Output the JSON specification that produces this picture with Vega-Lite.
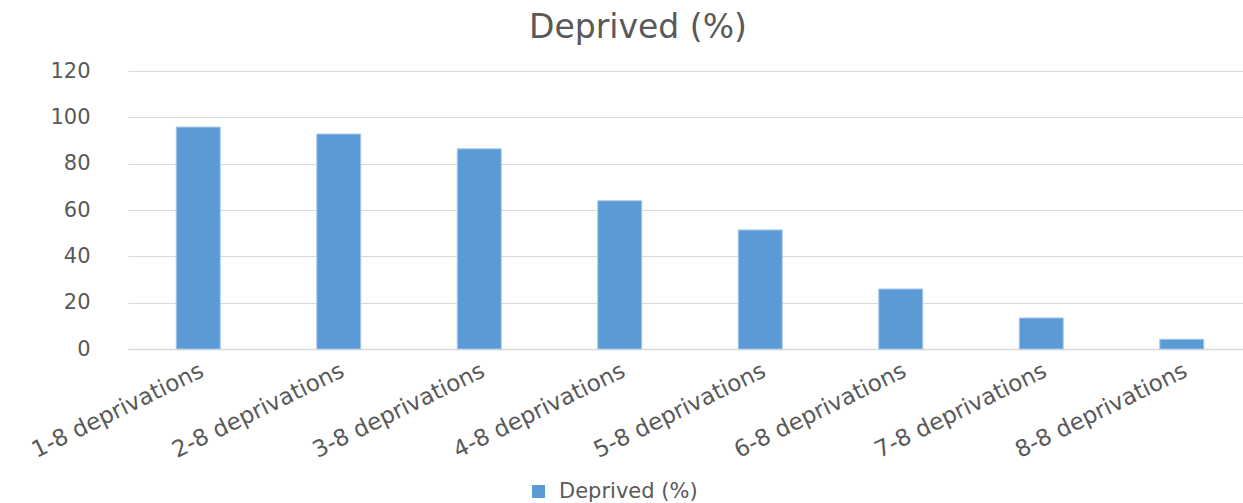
{
  "$schema": "https://vega.github.io/schema/vega-lite/v6.json",
  "width": 1124,
  "height": 278,
  "autosize": {"type": "none"},
  "padding": {"left": 128, "top": 71, "right": 0, "bottom": 154},
  "background": "white",
  "title": {
    "text": "Deprived (%)",
    "font": "DejaVu Sans",
    "fontSize": 33,
    "fontWeight": "normal",
    "color": "#595959",
    "anchor": "middle",
    "dx": -52,
    "offset": 15
  },
  "data": {
    "values": [
      {"group": "1-8 deprivations", "deprived": 95.8, "series": "Deprived (%)"},
      {"group": "2-8 deprivations", "deprived": 92.8, "series": "Deprived (%)"},
      {"group": "3-8 deprivations", "deprived": 86.4, "series": "Deprived (%)"},
      {"group": "4-8 deprivations", "deprived": 64.0, "series": "Deprived (%)"},
      {"group": "5-8 deprivations", "deprived": 51.4, "series": "Deprived (%)"},
      {"group": "6-8 deprivations", "deprived": 25.9, "series": "Deprived (%)"},
      {"group": "7-8 deprivations", "deprived": 13.4, "series": "Deprived (%)"},
      {"group": "8-8 deprivations", "deprived": 4.2, "series": "Deprived (%)"}
    ]
  },
  "mark": {"type": "bar", "stroke": "#a9c9ec", "strokeWidth": 1},
  "encoding": {
    "x": {
      "field": "group",
      "type": "nominal",
      "sort": null,
      "title": null,
      "scale": {"paddingInner": 0.687, "paddingOuter": 0.3435},
      "axis": {
        "labelAngle": -26,
        "labelAlign": "right",
        "labelBaseline": "middle",
        "labelFont": "DejaVu Sans",
        "labelFontSize": 23,
        "labelColor": "#595959",
        "labelPadding": 20,
        "labelOffset": 4,
        "labelLimit": 0,
        "labelOverlap": false,
        "ticks": false,
        "domainColor": "#d9d9d9",
        "domainWidth": 1.5,
        "grid": false
      }
    },
    "y": {
      "field": "deprived",
      "type": "quantitative",
      "title": null,
      "scale": {"domain": [0, 120], "nice": false},
      "axis": {
        "values": [0, 20, 40, 60, 80, 100, 120],
        "labelFont": "DejaVu Sans",
        "labelFontSize": 21,
        "labelColor": "#595959",
        "labelPadding": 38,
        "ticks": false,
        "domain": false,
        "grid": true,
        "gridColor": "#d9d9d9",
        "gridWidth": 1.2
      }
    },
    "color": {
      "field": "series",
      "type": "nominal",
      "scale": {"range": ["#5b9bd5"]},
      "legend": {
        "title": null,
        "orient": "none",
        "legendX": 400,
        "legendY": 410,
        "direction": "horizontal",
        "symbolType": "square",
        "symbolSize": 170,
        "symbolStrokeWidth": 0,
        "labelFont": "DejaVu Sans",
        "labelFontSize": 21,
        "labelColor": "#595959",
        "labelOffset": 10
      }
    }
  },
  "config": {"view": {"stroke": null}}
}
